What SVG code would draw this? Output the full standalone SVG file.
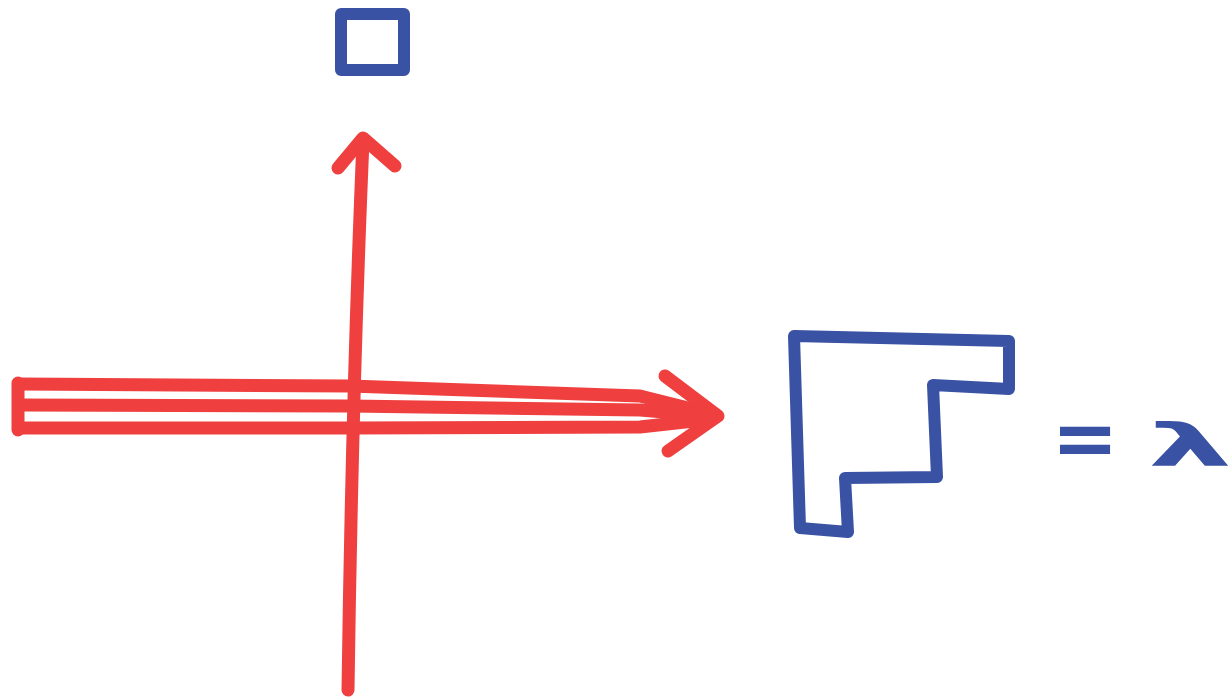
<svg xmlns="http://www.w3.org/2000/svg" width="1230" height="699" viewBox="0 0 1230 699">
<style>
.red{fill:none;stroke:#ef3f3f;stroke-width:13;stroke-linecap:round;stroke-linejoin:round}
.blue{fill:none;stroke:#3a52a3;stroke-width:12;stroke-linecap:round;stroke-linejoin:round}
.lbl{fill:#3a52a3;font-family:"DejaVu Sans",sans-serif;font-weight:bold}
</style>
<rect width="1230" height="699" fill="#ffffff"/>
<g id="connectors">
<g id="horizontal-arrow">
<path class="red" d="M 20,384 L 350,386 L 640,396 L 712,414"/>
<path class="red" d="M 20,405 L 350,406 L 640,410 L 712,416"/>
<path class="red" d="M 20,428 L 350,428 L 640,427 L 712,419"/>
<path class="red" d="M 18,383 L 18,430"/>
<path class="red" d="M 665,376 L 718,416 L 668,451"/>
</g>
<g id="vertical-arrow">
<path class="red" d="M 348,690 Q 352,400 363,140"/>
<path class="red" d="M 338,168 L 363,138 L 395,166"/>
</g>
</g>
<g id="box">
<rect class="blue" x="341" y="14" width="63" height="56"/>
</g>
<g id="young-diagram">
<path class="blue" d="M 794,336 L 1009,341 L 1009,389 L 933,385 L 937,477 L 845,478 L 848,532 L 800,528 Z"/>
</g>
<g id="label">
<text class="lbl" x="1085" y="466" font-size="80" text-anchor="middle">=</text>
<text class="lbl" x="1190" y="466" font-size="58" text-anchor="middle" transform="translate(1190 445) scale(2.3 1) translate(-1190 -445)">λ</text>
</g>
</svg>
